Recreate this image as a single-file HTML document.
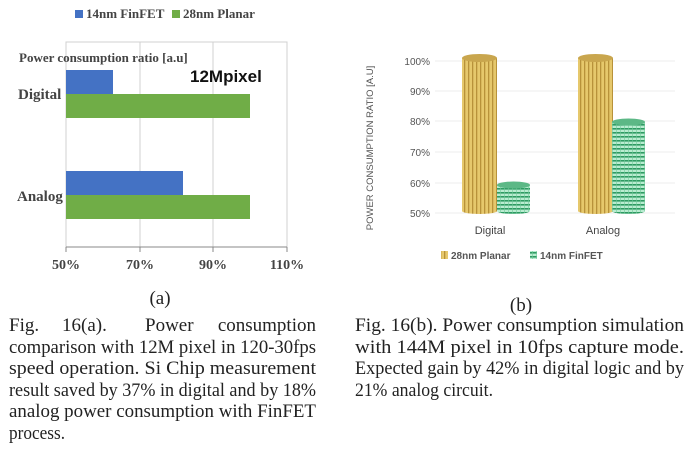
<!DOCTYPE html>
<html><head><meta charset="utf-8"><style>
html,body{margin:0;padding:0;background:#fff;width:690px;height:452px;overflow:hidden;position:relative}
</style></head><body>
<svg width="690" height="452" style="position:absolute;left:0;top:0" font-family="Liberation Serif, serif">
<defs>
<pattern id="gold" width="4" height="4" patternUnits="userSpaceOnUse"><rect width="4" height="4" fill="#e6c86c"/><rect width="1.3" height="4" fill="#b8923a"/></pattern>
<pattern id="grn" width="4" height="4" patternUnits="userSpaceOnUse"><rect width="4" height="4" fill="#b8ecd0"/><rect width="4" height="1.6" fill="#2e9a62"/><rect width="1" height="4" fill="#6fc99a" opacity=".6"/></pattern>
</defs>
<rect x="75" y="10" width="8" height="8" fill="#4472c4"/>
<text x="86" y="18" font-size="13" font-weight="bold" fill="#444">14nm FinFET</text>
<rect x="172" y="10" width="8" height="8" fill="#70ad47"/>
<text x="183" y="18" font-size="13" font-weight="bold" fill="#444">28nm Planar</text>
<rect x="66" y="42" width="221" height="205" fill="none" stroke="#d0d0d0"/>
<line x1="140" y1="42" x2="140" y2="247" stroke="#d0d0d0"/>
<line x1="213" y1="42" x2="213" y2="247" stroke="#d0d0d0"/>
<text x="19" y="62" font-size="13" font-weight="bold" fill="#444">Power consumption ratio [a.u]</text>
<text x="190" y="82" font-size="17" font-weight="bold" font-family="Liberation Sans, sans-serif" fill="#111">12Mpixel</text>
<rect x="66" y="70" width="47" height="24" fill="#4472c4"/>
<rect x="66" y="94" width="184" height="24" fill="#70ad47"/>
<rect x="66" y="171" width="117" height="24" fill="#4472c4"/>
<rect x="66" y="195" width="184" height="24" fill="#70ad47"/>
<text x="18" y="99" font-size="15" font-weight="bold" fill="#444">Digital</text>
<text x="17" y="201" font-size="15" font-weight="bold" fill="#444">Analog</text>
<line x1="66" y1="247" x2="287" y2="247" stroke="#888"/>
<g stroke="#888"><line x1="66" y1="247" x2="66" y2="252"/><line x1="140" y1="247" x2="140" y2="252"/><line x1="213" y1="247" x2="213" y2="252"/><line x1="287" y1="247" x2="287" y2="252"/></g>
<g font-size="14" font-weight="bold" fill="#444" text-anchor="middle"><text x="66" y="269">50%</text><text x="140" y="269">70%</text><text x="213" y="269">90%</text><text x="287" y="269">110%</text></g>
<g stroke="#ececec"><line x1="435" y1="61" x2="675" y2="61"/><line x1="435" y1="91" x2="675" y2="91"/><line x1="435" y1="121" x2="675" y2="121"/><line x1="435" y1="152" x2="675" y2="152"/><line x1="435" y1="183" x2="675" y2="183"/><line x1="435" y1="213" x2="675" y2="213"/></g>
<g font-family="Liberation Sans, sans-serif" font-size="10" fill="#555" text-anchor="end"><text x="430" y="65">100%</text><text x="430" y="95">90%</text><text x="430" y="125">80%</text><text x="430" y="156">70%</text><text x="430" y="187">60%</text><text x="430" y="217">50%</text></g>
<text transform="translate(373,148) rotate(-90)" text-anchor="middle" font-family="Liberation Sans, sans-serif" font-size="9.5" fill="#555">POWER CONSUMPTION RATIO [A.U]</text>
<rect x="462" y="58" width="35" height="153" fill="url(#gold)"/><ellipse cx="479.5" cy="211" rx="17.5" ry="3" fill="url(#gold)"/><ellipse cx="479.5" cy="58" rx="17.5" ry="4" fill="#c9a64e"/>
<rect x="497" y="185" width="33" height="26" fill="url(#grn)"/><ellipse cx="513.5" cy="211" rx="16.5" ry="3" fill="url(#grn)"/><ellipse cx="513.5" cy="185" rx="16.5" ry="3.5" fill="#5cb886"/>
<rect x="578" y="58" width="35" height="153" fill="url(#gold)"/><ellipse cx="595.5" cy="211" rx="17.5" ry="3" fill="url(#gold)"/><ellipse cx="595.5" cy="58" rx="17.5" ry="4" fill="#c9a64e"/>
<rect x="612" y="122" width="33" height="89" fill="url(#grn)"/><ellipse cx="628.5" cy="211" rx="16.5" ry="3" fill="url(#grn)"/><ellipse cx="628.5" cy="122" rx="16.5" ry="3.5" fill="#5cb886"/>
<g font-family="Liberation Sans, sans-serif" font-size="11" fill="#444" text-anchor="middle"><text x="490" y="234">Digital</text><text x="603" y="234">Analog</text></g>
<rect x="441" y="251" width="7" height="8" fill="url(#gold)"/>
<text x="451" y="259" font-family="Liberation Sans, sans-serif" font-size="10" font-weight="bold" fill="#555">28nm Planar</text>
<rect x="530" y="251" width="7" height="8" fill="url(#grn)"/>
<text x="540" y="259" font-family="Liberation Sans, sans-serif" font-size="10" font-weight="bold" fill="#555">14nm FinFET</text>
<g font-size="19" fill="#222">
<text x="160" y="304" text-anchor="middle">(a)</text>
<text x="521" y="311" text-anchor="middle">(b)</text>
<text x="9" y="331">Fig.</text>
<text x="62" y="331">16(a).</text>
<text x="145" y="331">Power</text>
<text x="316" y="331" text-anchor="end">consumption</text>
<text x="9" y="353" textLength="307" lengthAdjust="spacingAndGlyphs">comparison with 12M pixel in 120-30fps</text>
<text x="9" y="374" textLength="307" lengthAdjust="spacingAndGlyphs">speed operation. Si Chip measurement</text>
<text x="9" y="396" textLength="307" lengthAdjust="spacingAndGlyphs">result saved by 37% in digital and by 18%</text>
<text x="9" y="417" textLength="307" lengthAdjust="spacingAndGlyphs">analog power consumption with FinFET</text>
<text x="9" y="439" textLength="56" lengthAdjust="spacingAndGlyphs">process.</text>
<text x="355" y="331" textLength="329" lengthAdjust="spacingAndGlyphs">Fig. 16(b). Power consumption simulation</text>
<text x="355" y="353" textLength="329" lengthAdjust="spacingAndGlyphs">with 144M pixel in 10fps capture mode.</text>
<text x="355" y="374" textLength="329" lengthAdjust="spacingAndGlyphs">Expected gain by 42% in digital logic and by</text>
<text x="355" y="396" textLength="138" lengthAdjust="spacingAndGlyphs">21% analog circuit.</text>
</g>
</svg>
</body></html>
